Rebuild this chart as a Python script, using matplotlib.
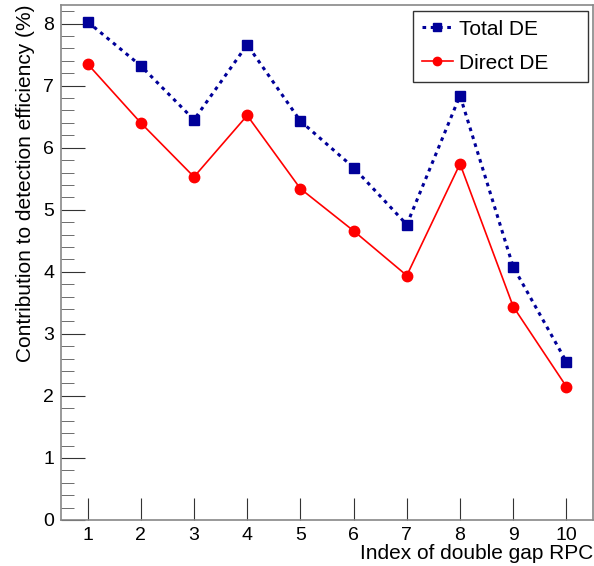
import numpy as np
import matplotlib.pyplot as plt

plt.rcParams['font.family'] = ['Liberation Sans', 'DejaVu Sans']

rpc_index = [1, 2, 3, 4, 5, 6, 7, 8, 9, 10]
total_de = [8.03, 7.32, 6.45, 7.66, 6.43, 5.68, 4.76, 6.84, 4.08, 2.55]
direct_de = [7.35, 6.40, 5.53, 6.52, 5.34, 4.66, 3.94, 5.74, 3.44, 2.15]

fig = plt.figure(figsize=(5.94, 5.66), dpi=100)
ax = fig.add_axes([61 / 594, 46 / 566, 532 / 594, 515 / 566])

ax.plot(rpc_index, total_de, color='#000099', linestyle=(0, (1.2, 1.5)), linewidth=2.2,
        marker='s', markersize=7.5, label='Total DE')
ax.plot(rpc_index, direct_de, color='#ff0000', linestyle='-', linewidth=1.2,
        marker='o', markersize=7.5, label='Direct DE')

ax.set_xlim(0.5, 10.5)
ax.set_ylim(0, 8.3)
ax.set_xticks(rpc_index)
ax.set_yticks(np.arange(0, 9, 1))
ax.set_yticks(np.arange(0, 8.3, 0.2), minor=True)
ax.tick_params(axis='both', which='major', direction='in', labelsize=14, color='#333333')
ax.tick_params(axis='y', which='major', length=17, pad=5)
ax.tick_params(axis='x', which='major', length=16, pad=5)
ax.tick_params(axis='y', which='minor', direction='in', length=9, color='#555555')
for s in ax.spines.values():
    s.set_color('#888888')
    s.set_linewidth(1.2)

ax.set_xlabel('Index of double gap RPC', fontsize=15, loc='right', labelpad=0)
ax.set_ylabel('Contribution to detection efficiency (%)', fontsize=15, loc='top', labelpad=6)

# legend box like ROOT TLegend: fixed width
lx0 = (413 - 61) / 532
lw = 175 / 532
ltop = 1 - 6 / 515
leg = ax.legend(loc='upper left', bbox_to_anchor=(lx0, ltop - 0.2, lw, 0.2), mode='expand',
                borderaxespad=0, fontsize=15, fancybox=False, framealpha=1,
                edgecolor='#333333', handlelength=1.5, borderpad=0.42,
                labelspacing=0.72, handletextpad=0.3, markerscale=0.8)
leg.get_frame().set_linewidth(1.0)

fig.savefig('out.png', dpi=100)
